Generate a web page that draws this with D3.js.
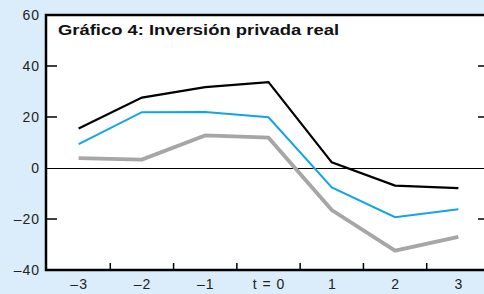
<!DOCTYPE html>
<html>
<head>
<meta charset="utf-8">
<script src="https://cdn.jsdelivr.net/npm/d3@7"></script>
<style>
  body { margin: 0; background: #dbedfa; }
  svg { display: block; }
  text { font-family: "Liberation Sans", Arial, sans-serif; }
</style>
</head>
<body>
<div id="chart"></div>
<script>
var categories = ["–3", "–2", "–1", "t = 0", "1", "2", "3"];
var yTicks = [-40, -20, 0, 20, 40, 60];
var serieNegra = [15.5, 27.6, 31.7, 33.7, 2.2, -6.9, -7.9];
var serieAzul = [9.4, 21.9, 22.0, 19.9, -7.6, -19.3, -16.2];
var serieGris = [3.9, 3.3, 12.8, 11.9, -16.5, -32.4, -27.0];

var width = 484, height = 294;
var margin = { left: 46, top: 15, bottom: 270 };

var svg = d3.select("#chart").append("svg")
  .attr("width", width)
  .attr("height", height);

var x = d3.scaleBand()
  .domain(categories)
  .range([margin.left + 1, 490]);

var y = d3.scaleLinear()
  .domain([-40, 60])
  .range([margin.bottom, margin.top]);

// plot area
svg.append("rect")
  .attr("x", margin.left)
  .attr("y", margin.top)
  .attr("width", width - margin.left)
  .attr("height", margin.bottom - margin.top)
  .attr("fill", "#fff");

// y labels
svg.selectAll(".ylab")
  .data(yTicks)
  .enter().append("text")
  .attr("x", 40)
  .attr("y", function(d) { return y(d) + 5; })
  .attr("text-anchor", "end")
  .attr("font-size", 14)
  .attr("letter-spacing", 1)
  .attr("fill", "#222")
  .text(function(d) { return d < 0 ? "–" + Math.abs(d) : d; });

// inner ticks left / right
var innerTicks = yTicks.filter(function(d) { return d != -40 && d != 60 && d != 0; });
svg.selectAll(".lt")
  .data(innerTicks)
  .enter().append("line")
  .attr("x1", margin.left).attr("x2", margin.left + 11)
  .attr("y1", function(d) { return y(d); })
  .attr("y2", function(d) { return y(d); })
  .attr("stroke", "#000").attr("stroke-width", 1.5);
svg.selectAll(".rt")
  .data(innerTicks)
  .enter().append("line")
  .attr("x1", width - 6).attr("x2", width)
  .attr("y1", function(d) { return y(d); })
  .attr("y2", function(d) { return y(d); })
  .attr("stroke", "#000").attr("stroke-width", 1.5);

// zero line
svg.append("line")
  .attr("x1", margin.left).attr("x2", width)
  .attr("y1", y(0) + 0.5).attr("y2", y(0) + 0.5)
  .attr("stroke", "#000").attr("stroke-width", 1.2);

// x ticks between categories
svg.selectAll(".xt")
  .data(categories.slice(1))
  .enter().append("line")
  .attr("x1", function(d) { return x(d); })
  .attr("x2", function(d) { return x(d); })
  .attr("y1", margin.bottom).attr("y2", margin.bottom - 7)
  .attr("stroke", "#000").attr("stroke-width", 1.5);

svg.selectAll(".xlab")
  .data(categories)
  .enter().append("text")
  .attr("x", function(d) { return x(d) + x.bandwidth() / 2 + 0.5; })
  .attr("y", 289)
  .attr("text-anchor", "middle")
  .attr("font-size", 14)
  .attr("letter-spacing", 1)
  .attr("fill", "#222")
  .text(function(d) { return d; });

// lines
var line = d3.line()
  .x(function(d, i) { return x(categories[i]) + x.bandwidth() / 2; })
  .y(function(d) { return y(d); });

var series = [
  { values: serieGris, color: "#a6a6a6", w: 3.8 },
  { values: serieAzul, color: "#12a5e3", w: 2 },
  { values: serieNegra, color: "#000", w: 2.2 }
];
series.forEach(function(s) {
  svg.append("path")
    .datum(s.values)
    .attr("d", line)
    .attr("fill", "none")
    .attr("stroke", s.color)
    .attr("stroke-width", s.w)
    .attr("stroke-linejoin", "miter");
});

// frame
svg.append("path")
  .attr("d", "M" + width + "," + margin.top + "H" + margin.left + "V" + margin.bottom + "H" + width)
  .attr("fill", "none")
  .attr("stroke", "#000")
  .attr("stroke-width", 2.5);

svg.append("text")
  .attr("x", 58)
  .attr("y", 35)
  .attr("font-size", 15.5)
  .attr("font-weight", "bold")
  .attr("textLength", 281)
  .attr("lengthAdjust", "spacingAndGlyphs")
  .attr("fill", "#111")
  .text("Gráfico 4: Inversión privada real");
</script>
</body>
</html>
